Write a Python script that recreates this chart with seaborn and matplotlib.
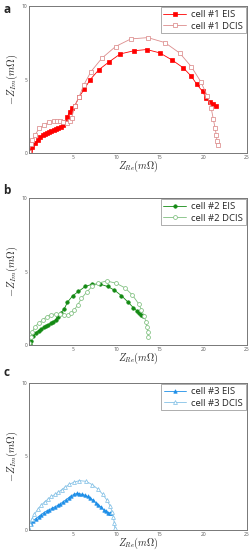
import numpy as np
import pandas as pd
import matplotlib
matplotlib.use("Agg")
import matplotlib.pyplot as plt
import seaborn as sns

sns.set_theme(style="white")
plt.rcParams['font.family'] = ['Open Sans', 'DejaVu Sans']
plt.rcParams['mathtext.fontset'] = 'cm'

# ---------------- data ----------------
a_eis_x = [0.12, 0.39, 0.70, 1.02, 1.29, 1.56, 1.84, 2.11, 2.34, 2.58, 2.85, 3.13, 3.36, 3.63,
           3.87, 4.14, 4.40, 4.65, 4.90, 5.25, 5.74, 6.33, 7.03, 8.00, 9.14, 10.47, 12.00,
           13.50, 15.00, 16.45, 17.70, 18.60, 19.26, 19.90, 20.30, 20.74, 21.10, 21.50]
a_eis_y = [0.18, 0.43, 0.70, 0.88, 1.09, 1.20, 1.29, 1.38, 1.45, 1.52, 1.56, 1.63, 1.70, 1.79,
           1.92, 2.10, 2.45, 2.80, 3.05, 3.22, 3.80, 4.34, 5.00, 5.66, 6.18, 6.74, 6.95,
           7.04, 6.81, 6.31, 5.79, 5.23, 4.66, 4.19, 3.76, 3.46, 3.30, 3.19]
a_dcis_x = [0.04, 0.20, 0.39, 0.70, 1.17, 1.72, 2.27, 2.81, 3.20, 3.60, 3.95, 4.41, 4.73, 4.88,
            5.27, 5.74, 6.29, 7.11, 8.36, 9.92, 11.68, 13.63, 15.59, 17.30, 18.63, 19.69,
            20.43, 20.90, 21.13, 21.33, 21.48, 21.56, 21.68]
a_dcis_y = [0.07, 0.63, 0.90, 1.24, 1.67, 1.92, 2.10, 2.19, 2.19, 2.17, 2.12, 2.06, 2.15, 2.38,
            3.21, 3.82, 4.64, 5.54, 6.45, 7.24, 7.76, 7.85, 7.51, 6.79, 5.86, 4.86,
            3.91, 3.03, 2.33, 1.72, 1.22, 0.84, 0.52]

b_eis_x = [0.10, 0.23, 0.51, 0.78, 1.09, 1.41, 1.68, 1.95, 2.23, 2.50, 2.77, 3.05, 3.28, 3.67,
           4.02, 4.41, 5.00, 5.66, 6.45, 7.27, 8.13, 9.02, 9.80, 10.59, 11.37, 11.95, 12.34,
           12.60, 12.85, 13.09]
b_eis_y = [0.10, 0.25, 0.61, 0.84, 0.98, 1.09, 1.20, 1.30, 1.39, 1.48, 1.59, 1.70, 1.93, 2.20,
           2.43, 2.91, 3.34, 3.64, 3.98, 4.14, 4.14, 3.98, 3.73, 3.36, 2.91, 2.55, 2.34,
           2.16, 2.05, 1.98]
b_dcis_x = [0.00, 0.20, 0.39, 0.70, 1.09, 1.56, 2.03, 2.54, 3.05, 3.55, 4.02, 4.45, 4.84, 5.20,
            5.59, 6.02, 6.64, 7.23, 7.93, 8.90, 10.00, 11.00, 11.84, 12.58, 12.89, 13.20,
            13.40, 13.52, 13.60, 13.67]
b_dcis_y = [0.16, 0.57, 0.91, 1.25, 1.48, 1.70, 1.93, 2.07, 2.11, 2.11, 2.05, 2.05, 2.16, 2.39,
            2.73, 3.18, 3.61, 3.98, 4.20, 4.36, 4.20, 3.89, 3.41, 2.80, 2.39, 1.98,
            1.59, 1.25, 0.91, 0.57]

c_eis_x = [0.00, 0.23, 0.47, 0.78, 1.09, 1.41, 1.72, 2.03, 2.34, 2.66, 2.97, 3.28, 3.59, 3.91,
           4.22, 4.53, 4.84, 5.16, 5.47, 5.78, 6.09, 6.41, 6.72, 7.03, 7.34, 7.66, 7.97,
           8.28, 8.59, 8.83, 9.06, 9.30, 9.45]
c_eis_y = [0.09, 0.39, 0.62, 0.78, 0.91, 1.05, 1.19, 1.30, 1.39, 1.48, 1.58, 1.67, 1.78, 1.92,
           2.05, 2.19, 2.33, 2.42, 2.49, 2.47, 2.42, 2.37, 2.28, 2.17, 2.03, 1.87, 1.71,
           1.55, 1.37, 1.26, 1.19, 1.16, 1.14]
c_dcis_x = [0.00, 0.08, 0.31, 0.63, 1.02, 1.41, 1.80, 2.19, 2.58, 2.97, 3.36, 3.75, 4.14, 4.61,
            5.12, 5.78, 6.56, 7.27, 7.89, 8.44, 8.91, 9.30, 9.53, 9.69, 9.77, 9.84]
c_dcis_y = [0.05, 0.39, 0.73, 1.07, 1.42, 1.69, 1.92, 2.10, 2.28, 2.42, 2.58, 2.74, 2.92, 3.11,
            3.24, 3.36, 3.31, 3.08, 2.79, 2.44, 2.05, 1.64, 1.23, 0.87, 0.50, 0.16]

panels = [
    ("a", "cell #1", a_eis_x, a_eis_y, a_dcis_x, a_dcis_y, "#ff0000", "#dc8c8c", "s"),
    ("b", "cell #2", b_eis_x, b_eis_y, b_dcis_x, b_dcis_y, "#138a13", "#7fbf7f", "o"),
    ("c", "cell #3", c_eis_x, c_eis_y, c_dcis_x, c_dcis_y, "#1e8fe8", "#84c1e6", "^"),
]

fig = plt.figure(figsize=(2.52, 5.5), dpi=100)
W, H = 252, 550
axes_px = [(6, 153), (198, 345), (383, 530)]
label_y = [3, 184, 366]

for (lab, cell, ex, ey, dx, dy, c1, c2, mk), (top, bot), ly in zip(panels, axes_px, label_y):
    ax = fig.add_axes([29 / W, 1 - bot / H, 218 / W, (bot - top) / H])
    ax.set_facecolor("white")
    sns.lineplot(x=ex, y=ey, ax=ax, sort=False, estimator=None, color=c1, lw=0.6,
                 marker=mk, markersize=2.5, mec=c1, mfc=c1, mew=0.5,
                 label=f"{cell} EIS")
    sns.lineplot(x=dx, y=dy, ax=ax, sort=False, estimator=None, color=c2, lw=0.6,
                 marker=mk, markersize=2.8, mec=c2, mfc="white", mew=0.55,
                 label=f"{cell} DCIS")
    ax.set_xlim(0, 25)
    ax.set_ylim(0, 10)
    ax.set_xticks([5, 10, 15, 20, 25])
    ax.set_yticks([0, 5, 10])
    ax.set_xticks([2.5, 7.5, 12.5, 17.5, 22.5], minor=True)
    ax.set_yticks([2.5, 7.5], minor=True)
    ax.tick_params(axis="both", which="major", direction="in", length=2.5, width=0.5,
                   labelsize=3.5, labelcolor="#555555", color="#777777", pad=1.2)
    ax.tick_params(axis="both", which="minor", direction="in", length=1.5, width=0.5,
                   color="#777777")
    for sp in ax.spines.values():
        sp.set_color("#777777")
        sp.set_linewidth(0.7)
    ax.set_xlabel(r"$Z_{Re}(m\Omega)$", fontsize=7.2, labelpad=-0.8)
    ax.set_ylabel(r"$-Z_{Im}(m\Omega)$", fontsize=7.5, labelpad=1.5)
    leg = ax.legend(loc="upper right", fontsize=6.8, frameon=True, fancybox=False,
                    borderaxespad=0.15, handlelength=2.4, handletextpad=0.5,
                    borderpad=0.3, labelspacing=0.25)
    leg.get_frame().set_edgecolor("#888888")
    leg.get_frame().set_linewidth(0.6)
    fig.text(3 / W, 1 - ly / H, lab, fontsize=8.5, fontweight="bold", va="top", ha="left")

fig.savefig("out.png", dpi=100)
